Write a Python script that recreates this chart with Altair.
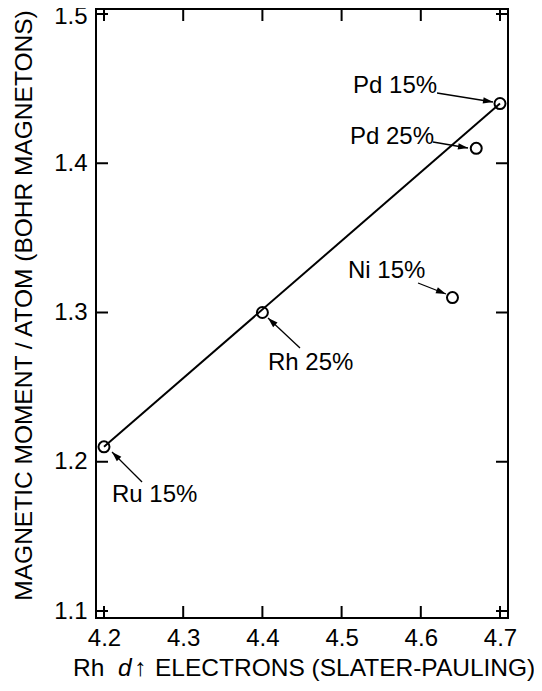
import altair as alt
import pandas as pd
import numpy as np

# ---- data ----
labels = ["Ru 15%", "Rh 25%", "Ni 15%", "Pd 25%", "Pd 15%"]
x_vals = [4.20, 4.40, 4.64, 4.67, 4.70]
y_vals = [1.21, 1.30, 1.31, 1.41, 1.44]

fit_x = [4.20, 4.70]
fit_y = [1.21, 1.44]

# annotation label anchors (left / baseline), in data units
label_x = [4.2101, 4.4071, 4.5081, 4.5106, 4.5144]
label_y = [1.17303, 1.26147, 1.32312, 1.41290, 1.44707]

# arrows: start (near label) -> tip (near point)
arrow_x0 = [4.2480, 4.4475, 4.5965, 4.6154, 4.6205]
arrow_y0 = [1.18643, 1.27621, 1.31977, 1.41424, 1.44707]
arrow_x1 = [4.2101, 4.4071, 4.6318, 4.6596, 4.6912]
arrow_y1 = [1.20653, 1.29631, 1.31240, 1.41022, 1.44104]

x_ticks = [4.2, 4.3, 4.4, 4.5, 4.6, 4.7]
y_ticks = [1.1, 1.2, 1.3, 1.4, 1.5]

# ---- layout ----
XMIN, XMAX = 4.1899, 4.7101
YMIN, YMAX = 1.09531, 1.50335
W, H = 412, 609
PX_X = W / (XMAX - XMIN)
PX_Y = H / (YMAX - YMIN)
TICK = 12
FONT = "Liberation Sans"
FS = 24

xs = alt.Scale(domain=[XMIN, XMAX], nice=False, zero=False)
ys = alt.Scale(domain=[YMIN, YMAX], nice=False, zero=False)

pts = pd.DataFrame({"x": x_vals, "y": y_vals, "label": labels})
fit = pd.DataFrame({"x": fit_x, "y": fit_y})
lab = pd.DataFrame({"x": label_x, "y": label_y, "label": labels})

ax0 = np.array(arrow_x0); ay0 = np.array(arrow_y0)
ax1 = np.array(arrow_x1); ay1 = np.array(arrow_y1)
dx_s = (ax1 - ax0) * PX_X
dy_s = -(ay1 - ay0) * PX_Y
ang = np.degrees(np.arctan2(dx_s, -dy_s)) % 360
arr = pd.DataFrame({"x": ax0, "y": ay0, "x2": ax1, "y2": ay1, "angle": ang})

xaxis = alt.Axis(values=x_ticks, format=".1f", title=None, grid=False, ticks=False,
                 tickSize=0, domain=False, labelFont=FONT, labelFontSize=FS,
                 labelColor="black", labelPadding=8, labelFlush=False,
                 labelOverlap=False)
yaxis = alt.Axis(values=y_ticks, format=".1f", title="MAGNETIC MOMENT / ATOM (BOHR MAGNETONS)",
                 grid=False, ticks=False, tickSize=0, domain=False, labelFont=FONT,
                 labelFontSize=FS, labelColor="black", labelPadding=9, labelFlush=False,
                 labelOverlap=False,
                 labelOffset={"condition": {"test": "datum.value >= 1.5", "value": 3},
                              "value": 0},
                 titleFont=FONT, titleFontSize=24.5,
                 titleFontWeight="normal", titleColor="black", titleAngle=270,
                 titleX=-65, titleY=296, titleAlign="center",
                 titleBaseline="alphabetic")


def X(field):
    return alt.X(field, scale=xs, axis=xaxis)


def Y(field):
    return alt.Y(field, scale=ys, axis=yaxis)


points = alt.Chart(pts).mark_point(shape="circle", filled=False, size=121,
                                   strokeWidth=2, color="black", opacity=1).encode(
    x=X("x:Q"), y=Y("y:Q"),
)

line = alt.Chart(fit).mark_line(color="black", strokeWidth=2).encode(
    x=X("x:Q"), y=Y("y:Q"),
)

texts = alt.Chart(lab).mark_text(align="left", baseline="alphabetic", font=FONT,
                                 fontSize=FS, color="black").encode(
    x=X("x:Q"), y=Y("y:Q"), text="label:N",
)

arrow_lines = alt.Chart(arr).mark_rule(color="black", strokeWidth=1.3).encode(
    x=X("x:Q"), y=Y("y:Q"), x2="x2:Q", y2="y2:Q",
)

heads = alt.Chart(arr).mark_point(shape="M0,0L-0.32,1L0.32,1Z", filled=True,
                                  size=400, color="black", opacity=1,
                                  strokeWidth=0).encode(
    x=X("x2:Q"), y=Y("y2:Q"),
    angle=alt.Angle("angle:Q", scale=None),
)

# inward ticks on all four sides (tick table built from the tick arrays)
ly = pd.DataFrame({"y": y_ticks, "xa": XMIN, "xb": XMIN + TICK / PX_X,
                   "xc": XMAX - TICK / PX_X, "xd": XMAX})
lx = pd.DataFrame({"x": x_ticks, "ya": YMIN, "yb": YMIN + TICK / PX_Y,
                   "yc": YMAX - TICK / PX_Y, "yd": YMAX})
tick_left = alt.Chart(ly).mark_rule(color="black", strokeWidth=2).encode(
    y=Y("y:Q"), x=X("xa:Q"), x2="xb:Q")
tick_right = alt.Chart(ly).mark_rule(color="black", strokeWidth=2).encode(
    y=Y("y:Q"), x=X("xc:Q"), x2="xd:Q")
tick_bottom = alt.Chart(lx).mark_rule(color="black", strokeWidth=2).encode(
    x=X("x:Q"), y=Y("ya:Q"), y2="yb:Q")
tick_top = alt.Chart(lx).mark_rule(color="black", strokeWidth=2).encode(
    x=X("x:Q"), y=Y("yc:Q"), y2="yd:Q")

# x-axis title with italic "d"
TY = 667
TFS = 24.5
t1 = alt.Chart(pd.DataFrame({"t": ["Rh"]})).mark_text(
    align="left", baseline="alphabetic", font=FONT, fontSize=TFS, color="black").encode(
    x=alt.value(-23), y=alt.value(TY), text="t:N")
t2 = alt.Chart(pd.DataFrame({"t": ["d"]})).mark_text(
    align="left", baseline="alphabetic", font=FONT, fontSize=TFS, fontStyle="italic",
    color="black").encode(x=alt.value(22), y=alt.value(TY), text="t:N")
t3 = alt.Chart(pd.DataFrame({"t": ["\u2191"]})).mark_text(
    align="left", baseline="alphabetic", font=FONT, fontSize=TFS,
    color="black").encode(
    x=alt.value(38), y=alt.value(TY), text="t:N")
t4 = alt.Chart(pd.DataFrame({"t": ["ELECTRONS (SLATER-PAULING)"]})).mark_text(
    align="left", baseline="alphabetic", font=FONT, fontSize=TFS, color="black").encode(
    x=alt.value(59), y=alt.value(TY), text="t:N")

chart = alt.layer(
    points, line, arrow_lines, heads, texts,
    tick_left, tick_right, tick_bottom, tick_top, t1, t2, t3, t4,
).properties(
    width=W, height=H,
    autosize=alt.AutoSizeParams(type="none"),
    padding={"left": 88, "top": 1, "right": 26, "bottom": 65},
).configure(
    background="white",
    view=alt.ViewConfig(stroke="black", strokeWidth=2),
)

chart.save("out.html", embed_options={"renderer": "svg", "actions": False})
